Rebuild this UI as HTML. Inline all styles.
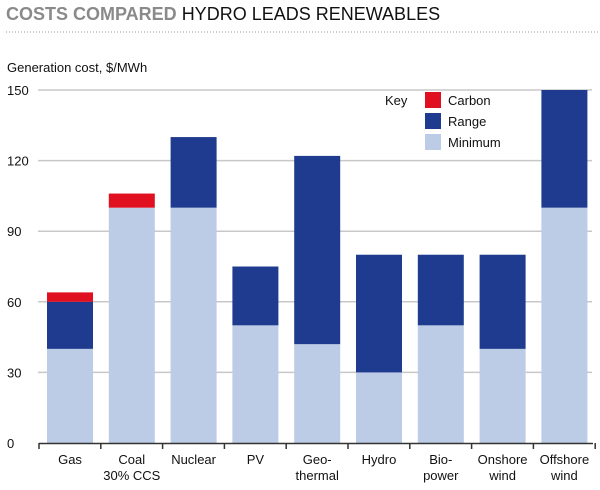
<!DOCTYPE html>
<html><head><meta charset="utf-8"><style>
body{margin:0;background:#fff;font-family:"Liberation Sans",sans-serif;}
#wrap{position:relative;width:600px;height:490px;overflow:hidden;}
</style></head><body>
<div id="wrap">
<svg id="chart" width="600" height="490">
<text x="6" y="20" font-size="18" font-weight="bold" fill="#8a8a8a">COSTS COMPARED <tspan fill="#111" font-weight="normal">HYDRO LEADS RENEWABLES</tspan></text>
<line x1="6" y1="32" x2="600" y2="32" stroke="#999" stroke-dasharray="1,2"/>
<text x="7" y="72" font-size="13" fill="#111">Generation cost, $/MWh</text>
<g id="grid"></g><g id="bars"></g><g id="xaxis"></g>
<g>
<text x="385" y="105" font-size="13" fill="#111">Key</text>
<rect x="425" y="92" width="16" height="16" fill="#e01020"/>
<text x="448" y="105" font-size="13" fill="#111">Carbon</text>
<rect x="425" y="113" width="16" height="16" fill="#1f3b8f"/>
<text x="448" y="126" font-size="13" fill="#111">Range</text>
<rect x="425" y="134" width="16" height="16" fill="#bccbe6"/>
<text x="448" y="147" font-size="13" fill="#111">Minimum</text>
</g>
</svg></div>
<script>
const categories=[["Gas"],["Coal","30% CCS"],["Nuclear"],["PV"],["Geo-","thermal"],["Hydro"],["Bio-","power"],["Onshore","wind"],["Offshore","wind"]];
const minimum=[40,100,100,50,42,30,50,40,100];
const rangeTop=[60,100,130,75,122,80,80,80,150];
const carbonTop=[64,106,130,75,122,80,80,80,150];
const yTicks=[0,30,60,90,120,150];
const NS="http://www.w3.org/2000/svg";
const y0=443,yTop=90,vMax=150;
const y=v=>y0-(v/vMax)*(y0-yTop);
const x=i=>47+i*61.8;
const bw=46;
function el(tag,attrs,parent){const e=document.createElementNS(NS,tag);for(const k in attrs)e.setAttribute(k,attrs[k]);parent.appendChild(e);return e;}
const grid=document.getElementById('grid'),bars=document.getElementById('bars'),xa=document.getElementById('xaxis');
yTicks.forEach(t=>{
 if(t>0){const l=el('line',{x1:38,x2:592,y1:y(t),y2:y(t),stroke:'#c8c8c8','stroke-width':1.5},grid);
 
 }
 const tx=el('text',{x:7,y:y(t)+5,'font-size':13,fill:'#111'},grid);tx.textContent=t;
 
 
});
categories.forEach((c,i)=>{
 const r1=el('rect',{x:x(i),width:bw,y:y(minimum[i]),height:y(0)-y(minimum[i]),fill:'#bccbe6'},bars);
 
 
 if(rangeTop[i]>minimum[i]){const r2=el('rect',{x:x(i),width:bw,y:y(rangeTop[i]),height:y(minimum[i])-y(rangeTop[i]),fill:'#1f3b8f'},bars);
 
 }
 if(carbonTop[i]>rangeTop[i]){const r3=el('rect',{x:x(i),width:bw,y:y(carbonTop[i]),height:y(rangeTop[i])-y(carbonTop[i]),fill:'#e01020'},bars);
 
 }
 c.forEach((s,j)=>{const t=el('text',{x:x(i)+bw/2,y:464+j*16,'font-size':13,fill:'#111','text-anchor':'middle'},xa);t.textContent=s;
 
 });
});
const ax=el('line',{x1:39,x2:593,y1:y0+0.5,y2:y0+0.5,stroke:'#333','stroke-width':1.5},xa);


for(let k=0;k<=categories.length;k++){const tk=el('line',{x1:x(k)-8,x2:x(k)-8,y1:y0,y2:y0+6,stroke:'#333','stroke-width':1.5},xa);
 
 }
</script>
</body></html>
